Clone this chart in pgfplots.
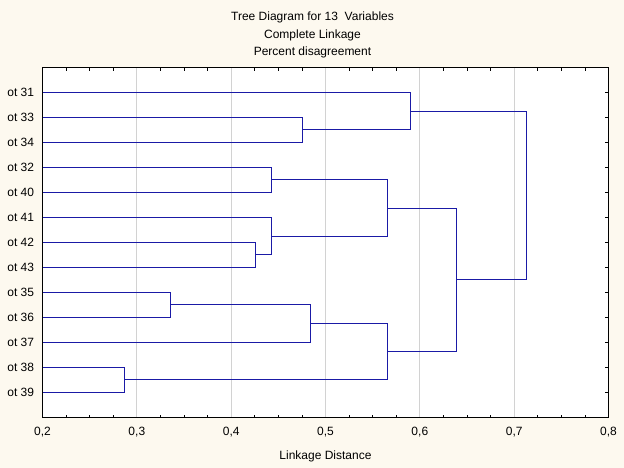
\documentclass[border=0pt]{standalone}
\usepackage{fontspec}
\setmainfont{Liberation Sans}
\usepackage{pgfplots}
\pgfplotsset{compat=1.18}
\definecolor{bgcol}{HTML}{FDF9EF}
\definecolor{dendro}{HTML}{1A1AA6}
\definecolor{gridcol}{HTML}{D2D2D2}
\newcommand{\lbl}{\fontsize{12bp}{14bp}\selectfont}
\tikzset{dd/.style={dendro, line width=1.5bp, solid, mark=none}}

\begin{document}
\begin{tikzpicture}
% page background, also fixes the picture's size (624 x 468)
\fill[bgcol] (-42.5bp,-50.5bp) rectangle (581.5bp,417.5bp);
\begin{axis}[
  scale only axis, width=566bp, height=350bp,
  xmin=0.2, xmax=0.8, ymin=0, ymax=14, y dir=reverse,
  axis background/.style={fill=white},
  xtick={0.2,0.3,0.4,0.5,0.6,0.7,0.8},
  xticklabels={{0,2},{0,3},{0,4},{0,5},{0,6},{0,7},{0,8}},
  minor x tick num=3,
  ytick={1,...,13},
  yticklabels={ot 31,ot 33,ot 34,ot 32,ot 40,ot 41,ot 42,ot 43,ot 35,ot 36,ot 37,ot 38,ot 39},
  tick align=inside, xtick pos=both, ytick pos=both,
  major tick length=3.5bp, minor tick length=3bp,
  tick style={black, line width=0.8bp},
  major x tick style={draw=none},
  xmajorgrids, grid style={gridcol, line width=0.9bp},
  axis line style={black, line width=1.3bp},
  tick label style={font=\lbl, inner sep=0pt},
  xticklabel style={anchor=north, yshift=-9.3bp},
  yticklabel style={anchor=east, xshift=-8.2bp},
  xlabel={Linkage Distance},
  xlabel style={at={(axis description cs:0.5,0)}, anchor=base, inner sep=0pt, yshift=-41.5bp, font=\lbl},
  clip=false,
]
% each merge: child 1 -> linkage distance -> child 2
\addplot[dd] coordinates {(0.2,2) (0.47562,2) (0.47562,3) (0.2,3)};                 % 33-34
\addplot[dd] coordinates {(0.2,1) (0.59011,1) (0.59011,2.48) (0.47562,2.48)};       % 31 + (33,34)
\addplot[dd] coordinates {(0.2,4) (0.44276,4) (0.44276,5) (0.2,5)};                 % 32-40
\addplot[dd] coordinates {(0.2,7) (0.42580,7) (0.42580,8) (0.2,8)};                 % 42-43
\addplot[dd] coordinates {(0.2,6) (0.44276,6) (0.44276,7.48) (0.42580,7.48)};       % 41 + (42,43)
\addplot[dd] coordinates {(0.44276,4.48) (0.56572,4.48) (0.56572,6.76) (0.44276,6.76)};
\addplot[dd] coordinates {(0.2,9) (0.33569,9) (0.33569,10) (0.2,10)};               % 35-36
\addplot[dd] coordinates {(0.33569,9.48) (0.48410,9.48) (0.48410,11) (0.2,11)};     % + 37
\addplot[dd] coordinates {(0.2,12) (0.28693,12) (0.28693,13) (0.2,13)};             % 38-39
\addplot[dd] coordinates {(0.48410,10.24) (0.56572,10.24) (0.56572,12.48) (0.28693,12.48)};
\addplot[dd] coordinates {(0.56572,5.64) (0.63887,5.64) (0.63887,11.36) (0.56572,11.36)};
\addplot[dd] coordinates {(0.59011,1.76) (0.71307,1.76) (0.71307,8.48) (0.63887,8.48)};
\end{axis}
\node[anchor=base, font=\lbl] at (270bp,396.8bp) {Tree Diagram for 13\ \ Variables};
\node[anchor=base, font=\lbl] at (270bp,378.8bp) {Complete Linkage};
\node[anchor=base, font=\lbl] at (270bp,361.5bp) {Percent disagreement};
\end{tikzpicture}
\end{document}
